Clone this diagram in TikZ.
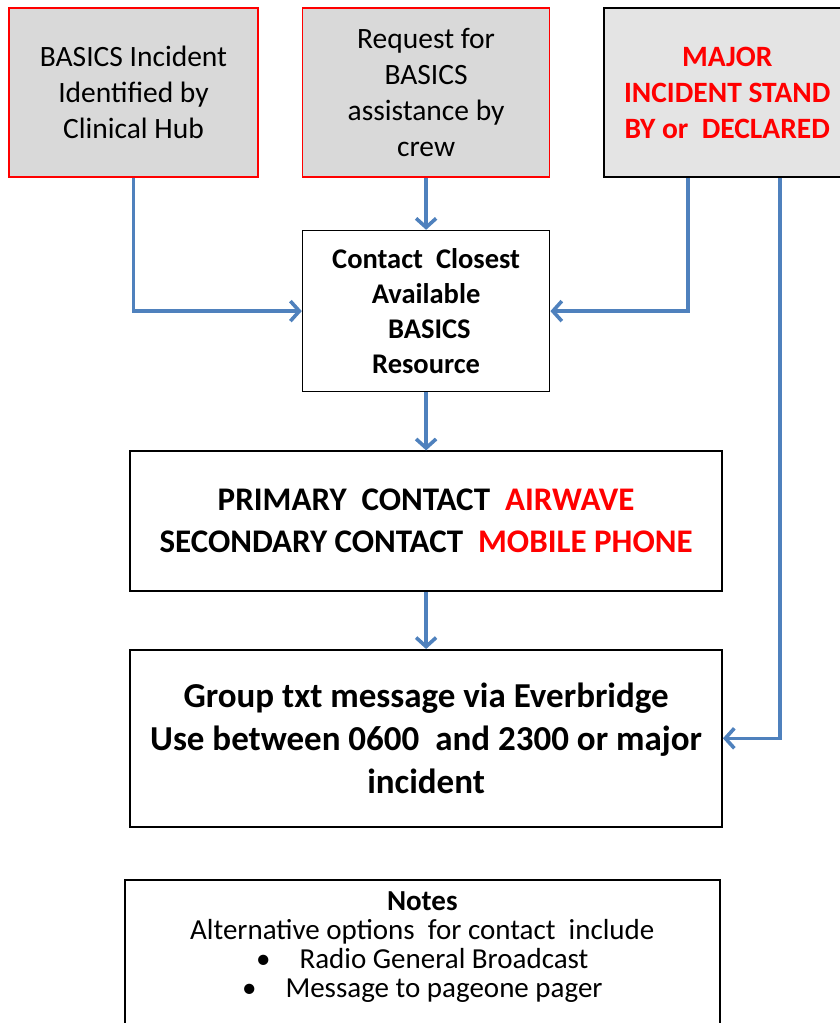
\documentclass[tikz,border=0pt]{standalone}
\usepackage{fontspec}
\setmainfont{Carlito}
\usepackage{tikz}
\usetikzlibrary{positioning,arrows.meta}

\definecolor{flowblue}{RGB}{79,129,189}
\definecolor{boxgray}{RGB}{217,217,217}
\definecolor{lightgray}{RGB}{228,228,228}
\definecolor{alertred}{RGB}{255,0,0}

\begin{document}
\begin{tikzpicture}[
        x=1pt, y=-1pt,
        >={Straight Barb[length=9pt,width=20pt]},
        box/.style={rectangle, draw, line width=1.6pt, align=center, inner sep=2pt},
        source/.style={box, draw=alertred, fill=boxgray, minimum width=249pt, minimum height=169pt,
                       font=\fontsize{29.5}{36}\selectfont},
        step box/.style={box, minimum width=592pt},
        flow/.style={->, draw=flowblue, line width=3.6pt},
    ]
        \useasboundingbox (0,0) rectangle (839,1023);

        % top row
        \node[source] (hub) at (133.5,92.5) {BASICS Incident\\Identified by\\Clinical Hub};
        \node[source, minimum width=247pt, right=43pt of hub] (req) {Request for\\BASICS\\assistance by\\crew};
        \node[box, fill=lightgray, minimum width=246pt, minimum height=169pt, right=53pt of req,
              font=\fontsize{29.5}{36}\selectfont\bfseries, text=alertred] (major)
              {MAJOR\\INCIDENT STAND\\BY or\ \ DECLARED};

        % flow down
        \node[box, minimum width=247pt, minimum height=161pt, below=52pt of req,
              font=\fontsize{28.5}{35}\selectfont\bfseries] (closest)
              {Contact\ \ Closest\\Available\\\ BASICS\\Resource};
        \node[step box, minimum height=140pt, below=58pt of closest,
              font=\fontsize{33}{42}\selectfont\bfseries] (primary)
              {PRIMARY\ \ CONTACT\ \ \textcolor{alertred}{AIRWAVE}\\
               SECONDARY CONTACT\ \ \textcolor{alertred}{MOBILE PHONE}};
        \node[step box, minimum height=177pt, below=57pt of primary,
              font=\fontsize{35}{43}\selectfont\bfseries] (group)
              {Group txt message via Everbridge\\Use between 0600\ \ and 2300 or major\\incident};

        % notes
        \node[box, minimum width=595pt, minimum height=170pt, anchor=north west,
              font=\fontsize{29}{29}\selectfont] (notes) at (124,879)
              {\textbf{Notes}\\Alternative options\ \ for contact\ \ include\\
               \textbullet\quad Radio General Broadcast\\
               \textbullet\quad Message to pageone pager\\[12pt]};

        \coordinate (hubturn) at (hub.south |- closest.west);
        \coordinate (majturn) at ([xshift=-39pt]major.south |- closest.east);
        \coordinate (majdrop) at ([xshift=53pt]major.south);

        \draw[flow] (hub.south) -- (hubturn) -- (closest.west);
        \draw[flow] (req) -- (closest);
        \draw[flow] ([xshift=-39pt]major.south) -- (majturn) -- (closest.east);
        \draw[flow] (majdrop) |- (group.east);
        \draw[flow] (closest) -- (primary);
        \draw[flow] (primary) -- (group);
    \end{tikzpicture}
\end{document}
